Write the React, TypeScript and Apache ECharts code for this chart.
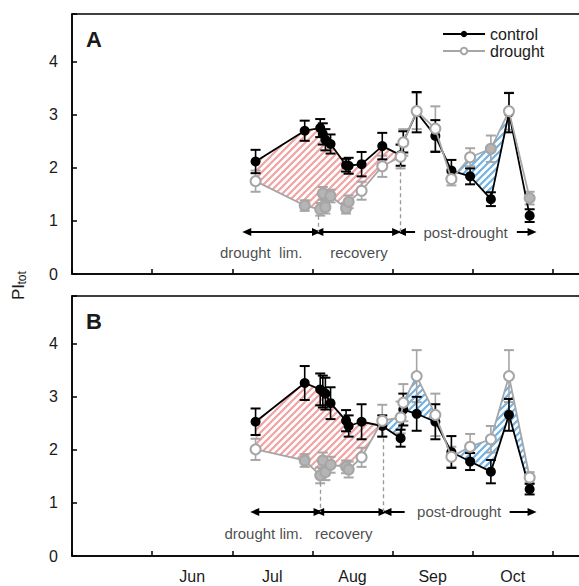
import React, { useEffect, useRef } from 'react';
import * as echarts from 'echarts';

// sampling dates (MM-DD), shared by both panels
const dates = ['07-10', '07-29', '08-04', '08-05', '08-06', '08-08', '08-14', '08-15', '08-20', '08-28',
  '09-04', '09-05', '09-10', '09-17', '09-23', '09-30', '10-08', '10-15', '10-23'];

// Panel A
const controlA = [2.12, 2.70, 2.75, 2.64, 2.53, 2.45, 2.05, 2.04, 2.07, 2.41, 2.24, 2.49, 3.05, 2.60, 1.95, 1.84, 1.41, 3.04, 1.10];
const controlErrA = [0.22, 0.19, 0.17, 0.2, 0.2, 0.18, 0.12, 0.15, 0.23, 0.25, 0.2, 0.2, 0.38, 0.3, 0.2, 0.15, 0.13, 0.37, 0.12];
const droughtA = [1.75, 1.29, 1.22, 1.52, 1.26, 1.47, 1.24, 1.36, 1.57, 2.03, 2.21, 2.48, 3.07, 2.74, 1.79, 2.20, 2.36, 3.07, 1.43];
const droughtErrA = [0.2, 0.1, 0.12, 0.12, 0.12, 0.12, 0.1, 0.12, 0.17, 0.2, 0.22, 0.25, 0.34, 0.42, 0.12, 0.17, 0.25, 0.35, 0.12];
const droughtFilledA = [0, 1, 1, 1, 1, 1, 1, 1, 0, 0, 0, 0, 0, 0, 0, 0, 1, 0, 1];

// Panel B
const controlB = [2.53, 3.26, 3.14, 3.10, 3.06, 2.88, 2.55, 2.45, 2.53, 2.45, 2.22, 2.76, 2.68, 2.53, 1.96, 1.78, 1.59, 2.66, 1.26];
const controlErrB = [0.25, 0.32, 0.3, 0.3, 0.3, 0.3, 0.2, 0.2, 0.33, 0.2, 0.16, 0.3, 0.32, 0.33, 0.3, 0.16, 0.22, 0.3, 0.1];
const droughtB = [2.01, 1.80, 1.52, 1.80, 1.58, 1.72, 1.68, 1.63, 1.86, 2.55, 2.61, 2.89, 3.39, 2.66, 1.87, 2.06, 2.20, 3.39, 1.48];
const droughtErrB = [0.2, 0.12, 0.15, 0.15, 0.15, 0.15, 0.12, 0.15, 0.18, 0.3, 0.3, 0.35, 0.49, 0.4, 0.19, 0.24, 0.25, 0.49, 0.1];
const droughtFilledB = [0, 1, 1, 1, 1, 1, 1, 1, 0, 0, 0, 0, 0, 0, 0, 0, 0, 0, 0];

// hatched regions: [fromIndex, toIndex, kind]
const hatchA = [[0, 10, 'pink'], [14, 17, 'blue']];
const hatchB = [[0, 9, 'pink'], [9, 18, 'blue']];

// x axis: months from May 1 (0) ; labels centred on months
const monthLabels = ['', 'Jun', 'Jul', 'Aug', 'Sep', 'Oct', ''];
const daysInMonth: Record<number, number> = { 5: 31, 6: 30, 7: 31, 8: 31, 9: 30, 10: 31, 11: 30 };

// annotations (x in months since May 1, y in PI units)
const arrowsA = [[2.18, 3.05, 0.79, 'both'], [3.08, 4.05, 0.79, 'both'], [4.11, 4.28, 0.79, 'start'], [5.55, 5.74, 0.79, 'end']];
const dashesA = [[3.07, 1.1, 0.79], [4.09, 2.05, 0.79]];
const labelsA = [['drought  lim.', 2.36, 0.4], ['recovery', 3.58, 0.4], ['post-drought', 4.91, 0.79]];
const arrowsB = [[2.28, 3.07, 0.83, 'both'], [3.09, 3.88, 0.83, 'both'], [3.93, 4.15, 0.83, 'start'], [5.46, 5.74, 0.83, 'end']];
const dashesB = [[3.1, 1.38, 0.83], [3.88, 2.35, 0.83]];
const labelsB = [['drought lim.', 2.39, 0.43], ['recovery', 3.39, 0.43], ['post-drought', 4.83, 0.83]];

const FONT = "'Liberation Sans', Arial, Helvetica, sans-serif";
const TXT = '#1a1a1a';
const GRAY = '#a6a6a6';

const toX = (s: string) => {
  const [m, d] = s.split('-').map(Number);
  return (m - 5) + (d - 1) / daysInMonth[m];
};
const xs = dates.map(toX);

function makeStripe(color: string) {
  const s = 7;
  const c = document.createElement('canvas');
  c.width = s; c.height = s;
  const ctx = c.getContext('2d')!;
  ctx.strokeStyle = color;
  ctx.lineWidth = 2.2;
  ctx.beginPath();
  ctx.moveTo(-1, 1); ctx.lineTo(1, -1);
  ctx.moveTo(-1, s + 1); ctx.lineTo(s + 1, -1);
  ctx.moveTo(s - 1, s + 1); ctx.lineTo(s + 1, s - 1);
  ctx.stroke();
  return { image: c.toDataURL(), repeat: 'repeat', imageWidth: s, imageHeight: s };
}

function errSeries(idx: number, vals: number[], errs: number[], color: string, z: number) {
  return {
    type: 'custom', xAxisIndex: idx, yAxisIndex: idx, z, silent: true,
    data: xs.map((x, i) => [x, vals[i], errs[i]]),
    encode: { x: 0, y: 1 },
    renderItem: (params: any, api: any) => {
      const x = api.value(0), y = api.value(1), e = api.value(2);
      const t = api.coord([x, y + e]);
      const b = api.coord([x, y - e]);
      const hw = 5;
      return {
        type: 'group',
        children: [
          { type: 'line', shape: { x1: t[0], y1: t[1], x2: b[0], y2: b[1] }, style: { stroke: color, lineWidth: 1.6 } },
          { type: 'line', shape: { x1: t[0] - hw, y1: t[1], x2: t[0] + hw, y2: t[1] }, style: { stroke: color, lineWidth: 2 } },
          { type: 'line', shape: { x1: b[0] - hw, y1: b[1], x2: b[0] + hw, y2: b[1] }, style: { stroke: color, lineWidth: 2 } },
        ],
      };
    },
  };
}

function hatchSeries(idx: number, regions: any[], ctl: number[], dr: number[], fills: any) {
  return {
    type: 'custom', xAxisIndex: idx, yAxisIndex: idx, z: 1, silent: true,
    data: regions.map((r) => [xs[r[0]], ctl[r[0]]]),
    encode: { x: 0, y: 1 },
    renderItem: (params: any, api: any) => {
      const [a, b, kind] = regions[params.dataIndex];
      const pts: number[][] = [];
      for (let i = a; i <= b; i++) pts.push(api.coord([xs[i], ctl[i]]));
      for (let i = b; i >= a; i--) pts.push(api.coord([xs[i], dr[i]]));
      return { type: 'polygon', shape: { points: pts }, style: { fill: fills[kind], stroke: 'none' } };
    },
  };
}

function annotSeries(idx: number, labels: any[], arrows: any[], dashes: any[]) {
  const arrowItems = arrows.map((a) => {
    const s1 = a[3] === 'both' || a[3] === 'start' ? 'triangle' : 'none';
    const s2 = a[3] === 'both' || a[3] === 'end' ? 'triangle' : 'none';
    return [
      { coord: [a[0], a[2]], symbol: s1, symbolSize: [8, 9], lineStyle: { color: '#000', width: 2, type: 'solid' } },
      { coord: [a[1], a[2]], symbol: s2, symbolSize: [8, 9] },
    ];
  });
  const dashItems = dashes.map((d) => [
    { coord: [d[0], d[1]], symbol: 'none', lineStyle: { color: '#999', width: 1.3, type: [4, 3] } },
    { coord: [d[0], d[2]], symbol: 'none' },
  ]);
  return {
    type: 'scatter', xAxisIndex: idx, yAxisIndex: idx, z: 6, silent: true,
    symbolSize: 1,
    itemStyle: { color: 'rgba(0,0,0,0)' },
    data: labels.map((l) => ({ value: [l[1], l[2]], name: l[0] })),
    label: { show: true, position: 'inside', formatter: '{b}', color: TXT, fontSize: 15, fontFamily: FONT },
    markLine: {
      silent: true, animation: false, label: { show: false },
      itemStyle: { color: '#000' },
      emphasis: { disabled: true },
      data: [...arrowItems, ...dashItems],
    },
  };
}

function lineSeries(idx: number, ctl: number[], dr: number[], filled: number[]) {
  return [
    {
      name: 'control', type: 'line', xAxisIndex: idx, yAxisIndex: idx, z: 4,
      data: xs.map((x, i) => [x, ctl[i]]),
      symbol: 'circle', symbolSize: 10,
      lineStyle: { color: '#000', width: 1.8 },
      itemStyle: { color: '#000' },
      emphasis: { disabled: true },
    },
    {
      name: 'drought', type: 'line', xAxisIndex: idx, yAxisIndex: idx, z: 5,
      data: xs.map((x, i) => ({
        value: [x, dr[i]],
        itemStyle: filled[i] ? { color: '#b5b5b5', borderColor: GRAY, borderWidth: 2 } : undefined,
      })),
      symbol: 'circle', symbolSize: 10,
      lineStyle: { color: GRAY, width: 1.8 },
      itemStyle: { color: '#fff', borderColor: GRAY, borderWidth: 2 },
      emphasis: { disabled: true },
    },
  ];
}

export default function App() {
  const ref = useRef<HTMLDivElement>(null);
  useEffect(() => {
    if (!ref.current) return;
    const chart = echarts.init(ref.current, undefined, { renderer: 'svg' });
    const fills = { pink: makeStripe('#f2a2a2'), blue: makeStripe('#72b2e4') };

    const xAxisFor = (idx: number) => ({
      type: 'value', gridIndex: idx, min: 0, max: 6.5, interval: 1,
      axisLine: { show: true, lineStyle: { color: '#000', width: 1.5 } },
      axisTick: { show: true, inside: true, length: 5, lineStyle: { color: '#000', width: 1.5 } },
      splitLine: { show: false },
      axisLabel: {
        show: idx === 1, margin: 12, fontSize: 16, color: TXT, fontFamily: FONT,
        formatter: (v: number) => {
          const i = Math.round(v);
          if (Math.abs(v - i) > 1e-6) return '';
          const l = monthLabels[i] || '';
          return l ? `{m|${l}}` : '';
        },
        rich: { m: { padding: [0, 0, 0, 80], fontSize: 16, color: TXT, fontFamily: FONT } },
      },
    });
    const yAxisFor = (idx: number) => ({
      type: 'value', gridIndex: idx, min: 0, max: 4.9, interval: 1,
      axisLine: { show: true, lineStyle: { color: '#000', width: 1.5 } },
      axisTick: { show: true, inside: true, length: 5, lineStyle: { color: '#000', width: 1.5 } },
      splitLine: { show: false },
      axisLabel: {
        fontSize: 16, color: TXT, margin: 14, fontFamily: FONT,
        formatter: (v: number) => (Number.isInteger(v) ? String(v) : ''),
      },
    });

    chart.setOption({
      animation: false,
      textStyle: { fontFamily: FONT },
      grid: [
        { left: 72, top: 14, width: 521, height: 260, show: true, borderColor: '#000', borderWidth: 1.5 },
        { left: 72, top: 296, width: 521, height: 260, show: true, borderColor: '#000', borderWidth: 1.5 },
      ],
      xAxis: [xAxisFor(0), xAxisFor(1)],
      yAxis: [yAxisFor(0), yAxisFor(1)],
      legend: {
        data: ['control', 'drought'], orient: 'vertical', left: 442, top: 26,
        itemWidth: 42, itemHeight: 8, itemGap: 1, padding: 0,
        textStyle: { fontSize: 16, lineHeight: 16, color: TXT, fontFamily: FONT },
      },
      graphic: [
        { type: 'text', left: 86, top: 28, style: { text: 'A', fontSize: 22, fontWeight: 'bold', fill: TXT, fontFamily: FONT } },
        { type: 'text', left: 86, top: 310, style: { text: 'B', fontSize: 22, fontWeight: 'bold', fill: TXT, fontFamily: FONT } },
        {
          type: 'group', x: 18, y: 300, rotation: Math.PI / 2,
          children: [
            { type: 'text', x: 0, y: 0, style: { text: 'PI', fontSize: 17, fill: TXT, fontFamily: FONT, align: 'left', verticalAlign: 'middle' } },
            { type: 'text', x: 15.5, y: 4, style: { text: 'tot', fontSize: 12, fill: TXT, fontFamily: FONT, align: 'left', verticalAlign: 'middle' } },
          ],
        },
      ],
      series: [
        hatchSeries(0, hatchA, controlA, droughtA, fills),
        errSeries(0, droughtA, droughtErrA, GRAY, 2),
        errSeries(0, controlA, controlErrA, '#000', 3),
        ...lineSeries(0, controlA, droughtA, droughtFilledA),
        annotSeries(0, labelsA, arrowsA, dashesA),
        hatchSeries(1, hatchB, controlB, droughtB, fills),
        errSeries(1, droughtB, droughtErrB, GRAY, 2),
        errSeries(1, controlB, controlErrB, '#000', 3),
        ...lineSeries(1, controlB, droughtB, droughtFilledB),
        annotSeries(1, labelsB, arrowsB, dashesB),
      ],
    });
    return () => chart.dispose();
  }, []);
  return (
    <div ref={ref} style={{ position: 'fixed', left: 0, top: 0, width: 612, height: 586, background: '#fff' }} />
  );
}
